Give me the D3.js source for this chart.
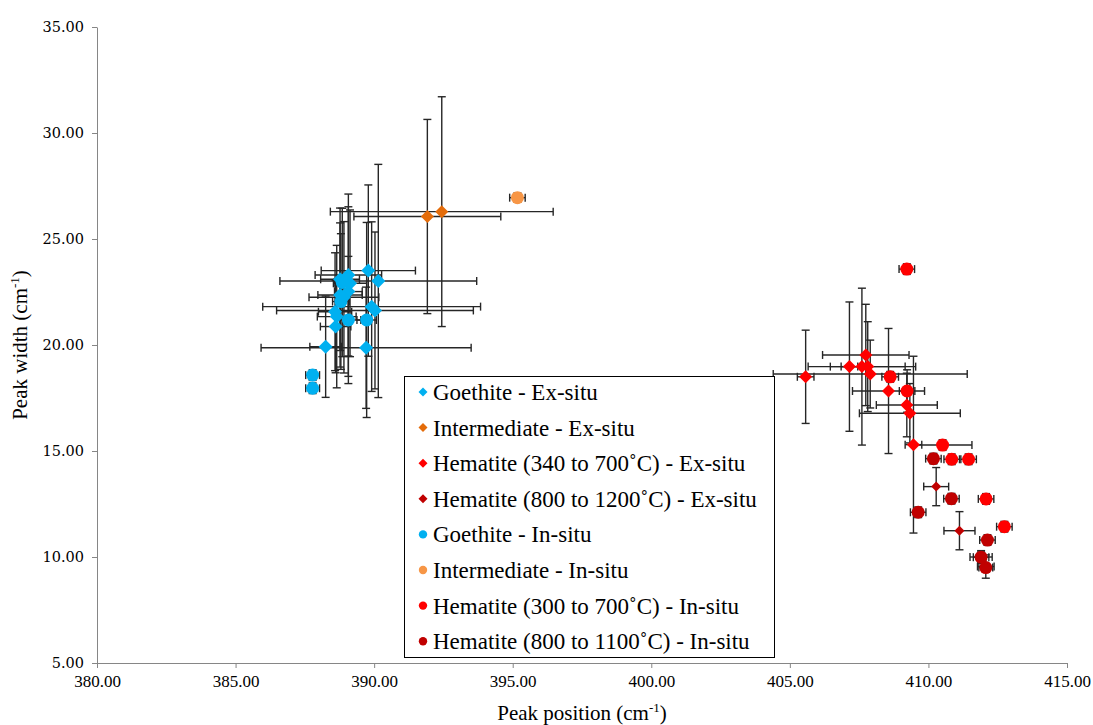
<!DOCTYPE html>
<html>
<head>
<meta charset="utf-8">
<script src="https://cdn.jsdelivr.net/npm/d3@7"></script>
<style>
  html, body { margin: 0; padding: 0; background: #fff; }
  svg { display: block; }
</style>
</head>
<body>
<svg id="chart" width="1093" height="725"></svg>
<script>
// Raman peak position vs. peak width, each point: [position, width, position error, width error]
const goethiteExSitu = [
  [389.79, 23.51, 1.70, 4.04],
  [390.15, 23.02, 3.55, 5.50],
  [389.07, 23.30, 1.20, 3.82],
  [388.77, 23.10, 0.70, 3.36],
  [389.13, 22.91, 0.60, 3.46],
  [388.77, 22.36, 0.80, 3.40],
  [389.07, 22.52, 0.50, 4.00],
  [388.91, 22.25, 1.26, 3.57],
  [388.59, 21.57, 0.60, 2.78],
  [388.65, 21.34, 0.70, 3.36],
  [389.91, 21.81, 3.93, 4.00],
  [390.03, 21.63, 3.55, 3.70],
  [388.61, 20.87, 0.55, 2.18],
  [388.25, 19.92, 0.57, 2.39],
  [389.71, 19.87, 3.79, 2.86]
];
const intermediateExSitu = [
  [391.92, 26.06, 2.65, 4.58],
  [392.44, 26.29, 4.02, 5.42]
];
const hematite340to700ExSitu = [
  [405.57, 18.50, 0.30, 2.20],
  [407.15, 18.98, 0.30, 3.05],
  [407.60, 18.98, 1.94, 3.70],
  [407.74, 19.53, 1.56, 2.39],
  [407.81, 18.98, 1.35, 2.12],
  [407.90, 18.63, 3.50, 1.60],
  [408.56, 17.83, 1.30, 2.95],
  [409.22, 17.17, 1.10, 1.50],
  [409.33, 16.78, 1.82, 1.40],
  [409.46, 15.30, 0.30, 4.17]
];
const hematite800to1200ExSitu = [
  [410.28, 13.32, 0.45, 0.90],
  [411.12, 11.24, 0.56, 0.90],
  [411.90, 10.00, 0.40, 0.30],
  [412.07, 9.55, 0.30, 0.55]
];
const goethiteInSitu = [
  [389.07, 21.18, 0.45, 3.00],
  [389.73, 21.18, 0.35, 4.60],
  [388.85, 22.95, 0.30, 3.50],
  [388.80, 22.05, 0.30, 3.20],
  [387.78, 18.58, 0.25, 0.25],
  [387.78, 17.96, 0.25, 0.25]
];
const intermediateInSitu = [
  [395.17, 26.95, 0.28, 0.22]
];
const hematite300to700InSitu = [
  [409.22, 23.58, 0.28, 0.25],
  [408.62, 18.50, 0.30, 0.25],
  [409.23, 17.83, 0.28, 1.00],
  [410.51, 15.28, 1.06, 0.25],
  [410.84, 14.61, 0.28, 0.25],
  [411.45, 14.61, 0.28, 0.25],
  [412.08, 12.74, 0.28, 0.25],
  [412.74, 11.43, 0.28, 0.25]
];
const hematite800to1100InSitu = [
  [410.18, 14.64, 0.28, 0.25],
  [410.83, 12.75, 0.28, 0.25],
  [409.63, 12.11, 0.28, 0.25],
  [412.13, 10.80, 0.28, 0.25],
  [411.90, 9.99, 0.28, 0.25],
  [412.07, 9.50, 0.25, 0.20]
];

const xTicks = [380, 385, 390, 395, 400, 405, 410, 415];
const yTicks = [5, 10, 15, 20, 25, 30, 35];

const series = [
  { name: "Goethite - Ex-situ", data: goethiteExSitu, color: "#00B0F0", shape: "diamond", size: 7 },
  { name: "Intermediate - Ex-situ", data: intermediateExSitu, color: "#E46C0A", shape: "diamond", size: 6.5 },
  { name: "Hematite (340 to 700˚C) - Ex-situ", data: hematite340to700ExSitu, color: "#FF0000", shape: "diamond", size: 6.5 },
  { name: "Hematite (800 to 1200˚C) - Ex-situ", data: hematite800to1200ExSitu, color: "#C00000", shape: "diamond", size: 5 },
  { name: "Goethite - In-situ", data: goethiteInSitu, color: "#00B0F0", shape: "circle", size: 6.5 },
  { name: "Intermediate - In-situ", data: intermediateInSitu, color: "#F79646", shape: "circle", size: 6.5 },
  { name: "Hematite (300 to 700˚C) - In-situ", data: hematite300to700InSitu, color: "#FF0000", shape: "circle", size: 6.5 },
  { name: "Hematite (800 to 1100˚C) - In-situ", data: hematite800to1100InSitu, color: "#C00000", shape: "circle", size: 6.5 }
];

const svg = d3.select("#chart");
const margin = { left: 97, right: 26, top: 27, bottom: 62 };
const W = 1093, H = 725;

const x = d3.scaleLinear().domain([380, 415]).range([margin.left, W - margin.right]);
const y = d3.scaleLinear().domain([5, 35]).range([H - margin.bottom, margin.top]);

const axisColor = "#868686";

// X axis
const gx = svg.append("g")
  .attr("transform", `translate(0,${y(5)})`)
  .call(d3.axisBottom(x).tickValues(xTicks).tickFormat(d3.format(".2f")).tickSize(5).tickSizeOuter(0));
gx.select(".domain").attr("stroke", axisColor);
gx.selectAll(".tick line").attr("stroke", axisColor);
gx.selectAll(".tick text")
  .attr("font-family", "'Liberation Serif', serif")
  .attr("font-size", 17)
  .attr("fill", "#000")
  .attr("dy", "0.95em");

// Y axis
const gy = svg.append("g")
  .attr("transform", `translate(${x(380)},0)`)
  .call(d3.axisLeft(y).tickValues(yTicks).tickFormat(d3.format(".2f")).tickSize(5).tickSizeOuter(0));
gy.select(".domain").attr("stroke", axisColor);
gy.selectAll(".tick line").attr("stroke", axisColor);
gy.selectAll(".tick text")
  .attr("font-family", "'DejaVu Serif', serif")
  .attr("font-size", 14.5)
  .attr("fill", "#000")
  .attr("x", -13);

// Axis titles
const xTitle = svg.append("text")
  .attr("x", (x(380) + x(415)) / 2)
  .attr("y", 720)
  .attr("text-anchor", "middle")
  .attr("font-family", "'Liberation Serif', serif")
  .attr("font-size", 21)
  .attr("fill", "#000");
xTitle.append("tspan").text("Peak position (cm");
xTitle.append("tspan").attr("font-size", 13).attr("dy", -8).text("-1");
xTitle.append("tspan").attr("dy", 8).text(")");

const yTitle = svg.append("text")
  .attr("transform", `translate(27,${(y(5) + y(35)) / 2}) rotate(-90)`)
  .attr("text-anchor", "middle")
  .attr("font-family", "'Liberation Serif', serif")
  .attr("font-size", 21)
  .attr("fill", "#000");
yTitle.append("tspan").text("Peak width (cm");
yTitle.append("tspan").attr("font-size", 13).attr("dy", -8).text("-1");
yTitle.append("tspan").attr("dy", 8).text(")");

// Error bars (drawn beneath markers)
const errColor = "#262626";
const cap = 4;
const errG = svg.append("g").attr("stroke", errColor).attr("stroke-width", 1.4).attr("fill", "none");
series.forEach(s => {
  s.data.forEach(([px, py, ex, ey]) => {
    const cx = x(px), cy = y(py);
    const x0 = x(px - ex), x1 = x(px + ex);
    const y0 = y(py - ey), y1 = y(py + ey);
    errG.append("line").attr("x1", x0).attr("x2", x1).attr("y1", cy).attr("y2", cy);
    errG.append("line").attr("x1", x0).attr("x2", x0).attr("y1", cy - cap).attr("y2", cy + cap);
    errG.append("line").attr("x1", x1).attr("x2", x1).attr("y1", cy - cap).attr("y2", cy + cap);
    errG.append("line").attr("x1", cx).attr("x2", cx).attr("y1", y0).attr("y2", y1);
    errG.append("line").attr("x1", cx - cap).attr("x2", cx + cap).attr("y1", y0).attr("y2", y0);
    errG.append("line").attr("x1", cx - cap).attr("x2", cx + cap).attr("y1", y1).attr("y2", y1);
  });
});

function diamondPath(r) {
  return `M0,${-r}L${r},0L0,${r}L${-r},0Z`;
}

// Markers
series.forEach(s => {
  const g = svg.append("g");
  s.data.forEach(([px, py]) => {
    if (s.shape === "diamond") {
      g.append("path")
        .attr("d", diamondPath(s.size))
        .attr("transform", `translate(${x(px)},${y(py)})`)
        .attr("fill", s.color);
    } else {
      g.append("circle")
        .attr("cx", x(px)).attr("cy", y(py)).attr("r", s.size)
        .attr("fill", s.color);
    }
  });
});

// Legend
const legend = svg.append("g");
legend.append("rect")
  .attr("x", 404.5).attr("y", 376.5).attr("width", 370).attr("height", 281)
  .attr("fill", "#fff").attr("stroke", "#000").attr("stroke-width", 1);
series.forEach((s, i) => {
  const ly = 392 + i * 35.6;
  if (s.shape === "diamond") {
    legend.append("path").attr("d", diamondPath(4.5))
      .attr("transform", `translate(423,${ly})`).attr("fill", s.color);
  } else {
    legend.append("circle").attr("cx", 423).attr("cy", ly).attr("r", 4.2).attr("fill", s.color);
  }
  legend.append("text")
    .attr("x", 433).attr("y", ly + 8)
    .attr("font-family", "'Liberation Serif', serif")
    .attr("font-size", 23)
    .attr("fill", "#000")
    .text(s.name);
});
</script>
</body>
</html>
